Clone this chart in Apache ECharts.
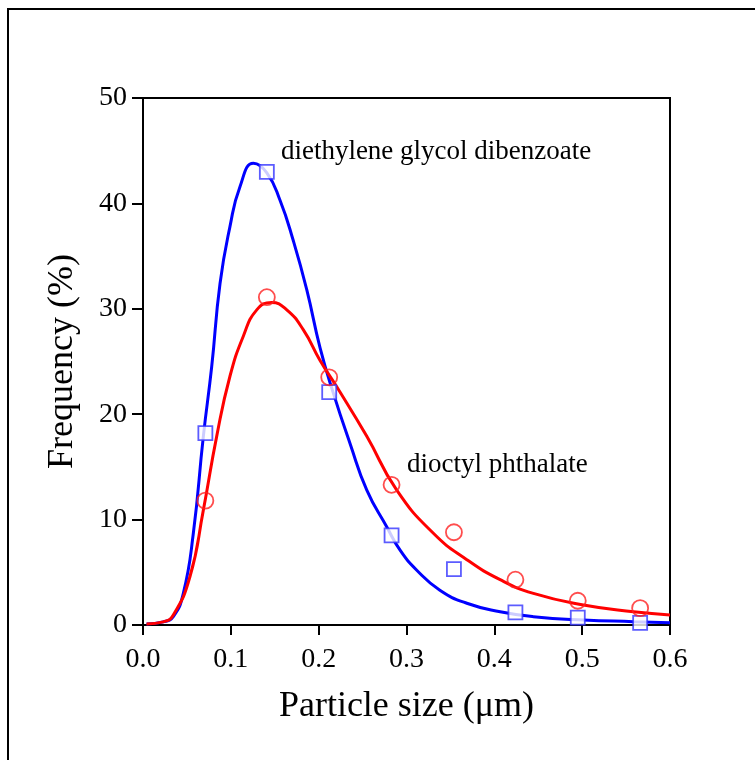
<!DOCTYPE html>
<html>
<head>
<meta charset="utf-8">
<script src="https://cdn.jsdelivr.net/npm/echarts@6/dist/echarts.min.js"></script>
<style>
  html, body { margin: 0; padding: 0; background: #fff; }
  #chart { width: 755px; height: 760px; }
</style>
</head>
<body>
<div id="chart"></div>
<script>
// measured points
const sizeX = [0.071, 0.141, 0.212, 0.283, 0.354, 0.424, 0.495, 0.566];
const dibenzoatePts = [18.2, 43.0, 22.1, 8.5, 5.3, 1.2, 0.7, 0.2];
const phthalatePts = [11.8, 31.1, 23.5, 13.3, 8.8, 4.3, 2.3, 1.6];

// fitted curves
const dibenzoateFit = [
  [0.004, 0.1], [0.023, 0.3], [0.0345, 0.8], [0.0459, 3.0], [0.0573, 8.7],
  [0.0687, 17.9], [0.0782, 24.5], [0.0877, 32.4], [0.099, 37.8], [0.1105, 41.6],
  [0.1257, 43.8], [0.141, 42.9], [0.156, 40.3], [0.171, 36.5], [0.1865, 31.8],
  [0.2016, 26.3], [0.2167, 22.0], [0.2358, 17.2], [0.2548, 12.8], [0.2776, 9.3],
  [0.2927, 7.1], [0.3117, 5.2], [0.338, 3.3], [0.3687, 2.06], [0.4066, 1.26],
  [0.4445, 0.79], [0.5015, 0.47], [0.5585, 0.32], [0.6, 0.22]
];
const phthalateFit = [
  [0.004, 0.1], [0.023, 0.3], [0.0345, 0.95], [0.0535, 4.6], [0.0687, 10.9],
  [0.0839, 17.9], [0.099, 23.6], [0.1142, 27.4], [0.1295, 29.9], [0.1465, 30.6],
  [0.1637, 29.9], [0.1826, 28.0], [0.2016, 25.1], [0.2206, 22.6], [0.2548, 17.9],
  [0.2889, 12.8], [0.3306, 8.7], [0.3687, 6.2], [0.4066, 4.3], [0.4445, 3.0],
  [0.5015, 1.9], [0.5585, 1.26], [0.6, 0.95]
];

const labels = [
  { text: 'diethylene glycol dibenzoate', at: [0.157, 44.9] },
  { text: 'dioctyl phthalate', at: [0.3007, 15.2] }
];

const font = 'Liberation Serif';
const chart = echarts.init(document.getElementById('chart'));

const option = {
  backgroundColor: '#fff',
  animation: false,
  graphic: [{
    type: 'rect',
    shape: { x: 8, y: 9, width: 800, height: 800 },
    style: { fill: 'none', stroke: '#000', lineWidth: 2 }
  }],
  grid: {
    left: 143, top: 98, right: 85, bottom: 135,
    show: true, borderColor: '#000', borderWidth: 2, backgroundColor: 'transparent'
  },
  xAxis: {
    type: 'value',
    min: 0, max: 0.6, interval: 0.1,
    name: 'Particle size (μm)',
    nameLocation: 'middle',
    nameGap: 64,
    nameTextStyle: { fontFamily: font, fontSize: 36, color: '#000' },
    axisLine: { lineStyle: { color: '#000', width: 2 } },
    axisTick: { length: 10, lineStyle: { color: '#000', width: 2 } },
    axisLabel: {
      margin: 21, fontFamily: font, fontSize: 28, color: '#000',
      formatter: v => v.toFixed(1)
    },
    splitLine: { show: false }
  },
  yAxis: {
    type: 'value',
    min: 0, max: 50, interval: 10,
    name: 'Frequency (%)',
    nameLocation: 'middle',
    nameGap: 62,
    nameTextStyle: { fontFamily: font, fontSize: 36, color: '#000' },
    axisLine: { lineStyle: { color: '#000', width: 2 } },
    axisTick: { length: 11, lineStyle: { color: '#000', width: 2 } },
    axisLabel: { margin: 16, fontFamily: font, fontSize: 28, color: '#000' },
    splitLine: { show: false }
  },
  series: [
    {
      name: 'dibenzoate fit',
      type: 'line',
      data: dibenzoateFit,
      smooth: 0.5,
      showSymbol: false,
      lineStyle: { color: '#0000ff', width: 3 },
      z: 2
    },
    {
      name: 'phthalate fit',
      type: 'line',
      data: phthalateFit,
      smooth: 0.5,
      showSymbol: false,
      lineStyle: { color: '#ff0000', width: 3 },
      z: 3
    },
    {
      name: 'dibenzoate',
      type: 'scatter',
      data: sizeX.map((x, i) => [x, dibenzoatePts[i]]),
      symbol: 'rect',
      symbolSize: 14,
      itemStyle: { color: '#fff', borderColor: '#3333ff', borderWidth: 1.8 },
      z: 4
    },
    {
      name: 'phthalate',
      type: 'scatter',
      data: sizeX.map((x, i) => [x, phthalatePts[i]]),
      symbol: 'circle',
      symbolSize: 16,
      itemStyle: { color: 'transparent', borderColor: '#ff2020', borderWidth: 1.8 },
      z: 4
    },
    {
      name: 'labels',
      type: 'scatter',
      data: labels.map(l => ({ value: l.at, label: { formatter: l.text } })),
      symbolSize: 0,
      silent: true,
      label: {
        show: true, position: 'right', distance: 0,
        fontFamily: font, fontSize: 27, color: '#000',
        textBorderWidth: 0, opacity: 1
      },
      z: 5
    }
  ]
};

chart.setOption(option);
</script>
</body>
</html>
